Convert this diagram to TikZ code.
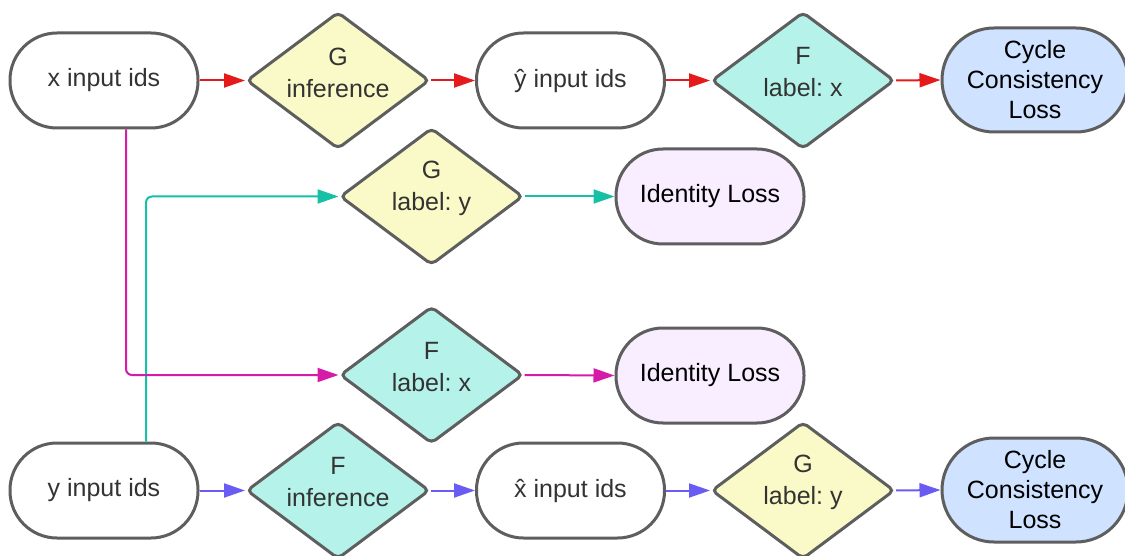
\documentclass[tikz,border=0pt]{standalone}
\usepackage{fontspec}
\setmainfont{Liberation Sans}
\frenchspacing
\usetikzlibrary{shapes.geometric,arrows.meta,calc}
\definecolor{bord}{HTML}{5E5E5E}
\definecolor{txtc}{HTML}{333333}
\definecolor{yelf}{HTML}{FAFAC8}
\definecolor{cyaf}{HTML}{B5F3EA}
\definecolor{bluf}{HTML}{CFE2FF}
\definecolor{purf}{HTML}{F9EEFF}
\definecolor{cred}{HTML}{E51A1A}
\definecolor{cblu}{HTML}{6A5CF3}
\definecolor{cmag}{HTML}{D61BA8}
\definecolor{ctea}{HTML}{16C0A4}
\tikzset{
  stad/.style={draw=bord, line width=3pt, rectangle, rounded corners=47pt,
    minimum width=188pt, minimum height=95pt, inner sep=0pt, align=center,
    text=txtc, font=\fontsize{25}{30}\selectfont},
  cyc/.style={stad, fill=bluf, rounded corners=52pt, minimum width=186pt,
    minimum height=104pt, text=black},
  dia/.style={draw=bord, line width=3pt, diamond, rounded corners=5pt,
    minimum width=183pt, minimum height=137pt, inner sep=0pt},
  dtxt/.style={align=center, text=txtc, font=\fontsize{25}{32}\selectfont, inner sep=0pt},
  conn/.style={line width=2pt, -{Triangle[length=21pt,width=14pt]}},
}
\begin{document}
\begin{tikzpicture}[x=1pt,y=-1pt]
\useasboundingbox (0,0) rectangle (1125,556);
\begin{scope}
\clip (0,0) rectangle (1125,556);
% top row
\node[stad, fill=white] (xin) at (104,80.5) {x input ids};
\node[dia, fill=yelf] (Ginf) at (338,80.5) {};
\node[dtxt] (Ginft) at ($(Ginf)+(0,-8)$) {G\\inference};
\node[stad, fill=white] (yhat) at (570.5,80.5) {ŷ input ids};
\node[dia, fill=cyaf] (Flx1) at (803,80.5) {};
\node[dtxt] (Flx1t) at ($(Flx1)+(0,-8)$) {F\\label: x};
\node[cyc] (cyc1) at (1035,80) {Cycle\\Consistency\\Loss};
% middle rows
\node[dia, fill=yelf] (Gly1) at (431.5,196.5) {};
\node[dtxt] (Gly1t) at ($(Gly1)+(0,-8)$) {G\\label: y};
\node[stad, fill=purf, text=black] (id1) at (710,196.5) {Identity Loss};
\node[dia, fill=cyaf] (Flx2) at (431.5,375) {};
\node[dtxt] (Flx2t) at ($(Flx2)+(0,-8)$) {F\\label: x};
\node[stad, fill=purf, text=black] (id2) at (710,375.5) {Identity Loss};
% bottom row
\node[stad, fill=white] (yin) at (104,490.5) {y input ids};
\node[dia, fill=cyaf] (Finf) at (338,490.5) {};
\node[dtxt] (Finft) at ($(Finf)+(0,-8)$) {F\\inference};
\node[stad, fill=white] (xhat) at (570.5,490.5) {x̂ input ids};
\node[dia, fill=yelf] (Gly2) at (803,490.5) {};
\node[dtxt] (Gly2t) at ($(Gly2)+(0,-8)$) {G\\label: y};
\node[cyc] (cyc2) at (1035,490) {Cycle\\Consistency\\Loss};
% connectors
\draw[conn, cred] (xin.east) -- (Ginf.west);
\draw[conn, cred] (Ginf.east) -- (yhat.west);
\draw[conn, cred] (yhat.east) -- (Flx1.west);
\draw[conn, cred] (Flx1.east) -- (cyc1.west);
\draw[conn, cblu] (yin.east) -- (Finf.west);
\draw[conn, cblu] (Finf.east) -- (xhat.west);
\draw[conn, cblu] (xhat.east) -- (Gly2.west);
\draw[conn, cblu] (Gly2.east) -- (cyc2.west);
\draw[conn, ctea] (Gly1.east) -- (id1.west);
\draw[conn, cmag] (Flx2.east) -- (id2.west);
\draw[conn, ctea, rounded corners=6pt] (yin.north -| 146,0) -- (146,196.5) -- (Gly1.west);
\draw[conn, cmag, rounded corners=6pt] (xin.south -| 126,0) -- (126,375) -- (Flx2.west);
\end{scope}
\end{tikzpicture}
\end{document}
